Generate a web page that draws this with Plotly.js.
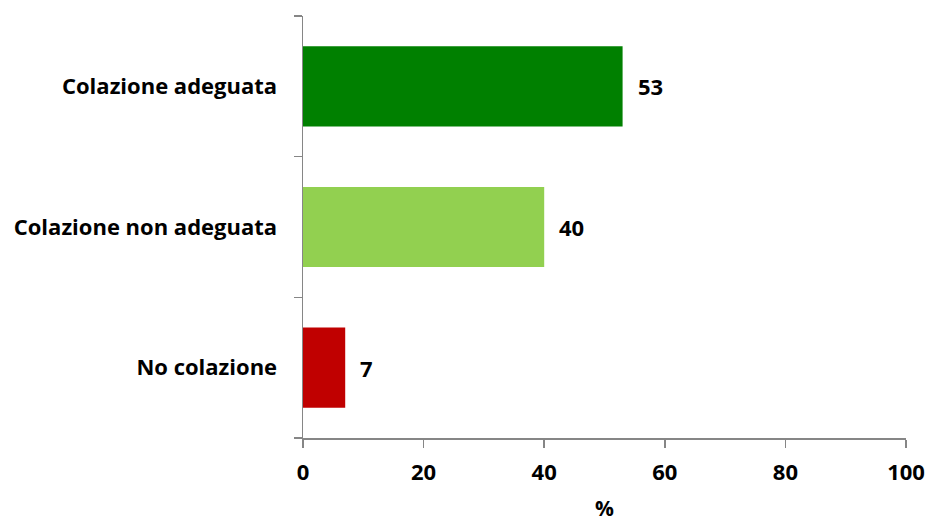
<!DOCTYPE html>
<html>
<head>
<meta charset="utf-8">
<script src="https://cdn.plot.ly/plotly-3.0.1.min.js"></script>
<style>html,body{margin:0;padding:0;background:#fff;}#chart{width:928px;height:522px;}</style>
</head>
<body>
<div id="chart"></div>
<script>
const categories = ["Colazione adeguata", "Colazione non adeguata", "No colazione"];
const values = [53, 40, 7];
const barColors = ["#008000", "#92D050", "#C00000"];
const xTicks = [0, 20, 40, 60, 80, 100];
const xTitle = "%";

const font = "'Open Sans', sans-serif";

const trace = {
  type: "bar",
  orientation: "h",
  y: categories,
  x: values,
  marker: {color: barColors, line: {width: 0}},
  hoverinfo: "none"
};

const annotations = categories.map((c, i) => ({
  x: values[i], y: c, xref: "x", yref: "y",
  text: "<b>" + values[i] + "</b>",
  showarrow: false, xanchor: "left", xshift: 13, yshift: 0,
  font: {family: font, size: 22, color: "#000"}
}));

annotations.push({
  x: 0.5, y: -0.166, xref: "paper", yref: "paper",
  text: "<b>" + xTitle + "</b>", showarrow: false,
  xanchor: "center", yanchor: "middle",
  font: {family: font, size: 21, color: "#000"}
});

const layout = {
  width: 928, height: 522,
  margin: {l: 303, r: 22, t: 16, b: 84},
  paper_bgcolor: "#fff", plot_bgcolor: "#fff",
  showlegend: false,
  bargap: 0.43,
  xaxis: {
    range: [0, 100], tickvals: xTicks, ticktext: xTicks.map(v => "<b>" + v + "</b>"),
    showgrid: false, zeroline: false,
    showline: true, linecolor: "#868686", linewidth: 1.5,
    ticks: "outside", ticklen: 8, tickcolor: "#868686", tickwidth: 1.5,
    tickfont: {family: font, size: 22, color: "#000"},
    ticklabelstandoff: 6
  },
  yaxis: {
    type: "category", categoryorder: "array", categoryarray: categories,
    autorange: "reversed",
    ticktext: categories.map(c => "<b>" + c + "</b>"), tickvals: categories,
    showgrid: false, zeroline: false,
    showline: true, linecolor: "#868686", linewidth: 1.5,
    ticks: "outside", ticklen: 8, tickcolor: "#868686", tickwidth: 1.5,
    tickson: "boundaries",
    tickfont: {family: font, size: 22, color: "#000"},
    ticklabelstandoff: 20
  },
  annotations: annotations
};

Plotly.newPlot("chart", [trace], layout, {staticPlot: true, displayModeBar: false});
</script>
</body>
</html>
